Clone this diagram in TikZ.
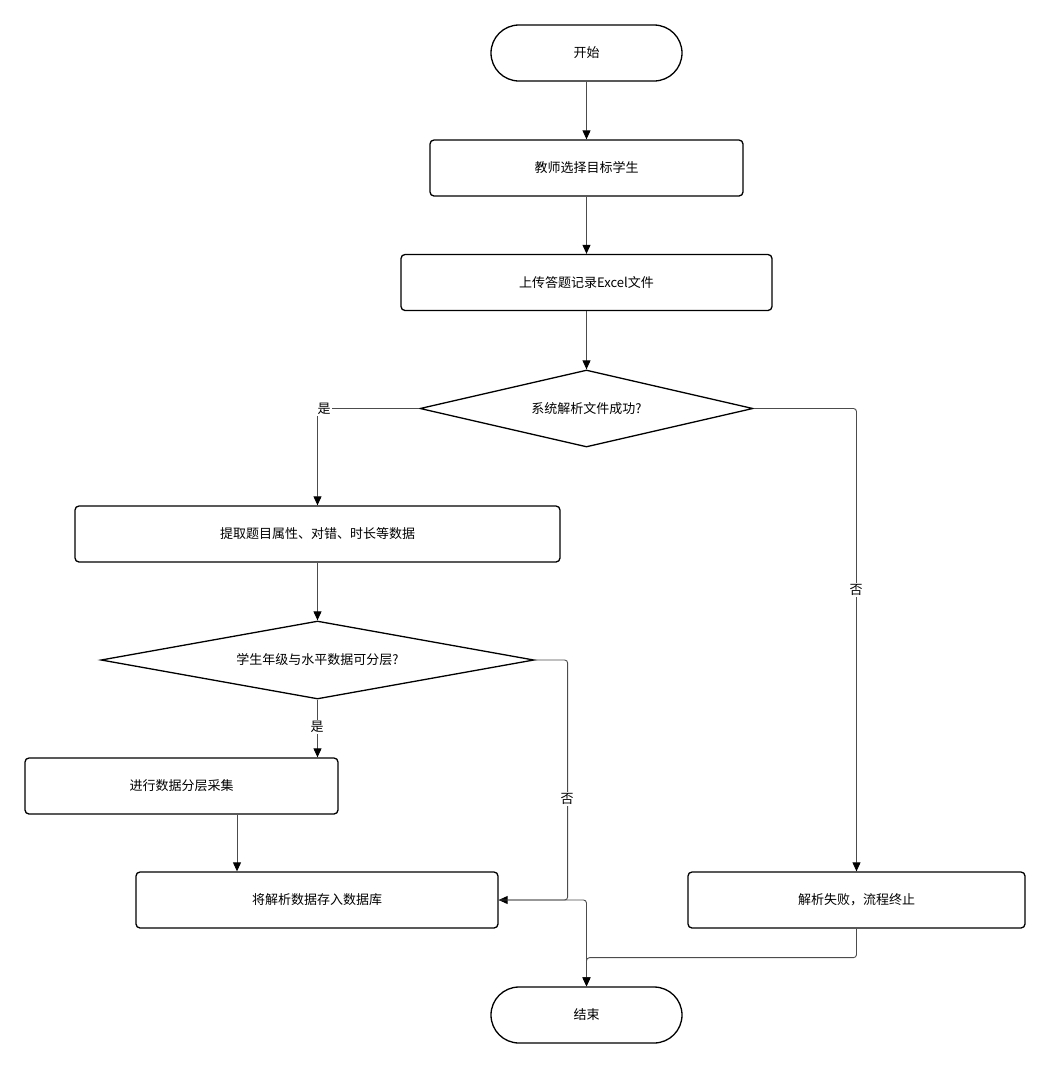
\documentclass[tikz,border=0pt]{standalone}
\usepackage{fontspec}
\setmainfont{Noto Sans CJK SC}
\usetikzlibrary{shapes.geometric,shapes.misc,arrows.meta}
\begin{document}
\begin{tikzpicture}[x=1pt,y=-1pt,
  every node/.style={font=\fontsize{13}{15}\selectfont},
  box/.style={draw=black,line width=1.3pt,rounded corners=4pt,minimum height=56,inner sep=0pt},
  term/.style={draw=black,line width=1.3pt,rounded rectangle,minimum width=191,minimum height=56,inner sep=0pt},
  decision/.style={draw=black,line width=1.3pt,diamond,inner sep=0pt},
  conn/.style={draw=black!70,line width=0.9pt,rounded corners=3pt,-{Triangle[length=9pt,width=8pt,fill=black,color=black]}},
  lbl/.style={fill=white,inner sep=1pt}]
\useasboundingbox (0,0) rectangle (1051,1069);
\node[term] (start) at (586.5,53) {开始};
\node[box,minimum width=313] (b1) at (586.5,168) {教师选择目标学生};
\node[box,minimum width=371] (b2) at (586.5,282.5) {上传答题记录Excel文件};
\node[decision,aspect=4.32,minimum width=333,minimum height=77] (d1) at (586.5,408.5) {系统解析文件成功?};
\node[box,minimum width=485] (b3) at (317.5,534) {提取题目属性、对错、时长等数据};
\node[decision,aspect=5.55,minimum width=433,minimum height=78] (d2) at (317.5,660) {学生年级与水平数据可分层?};
\node[box,minimum width=313] (b4) at (181.5,786) {进行数据分层采集};
\node[box,minimum width=362] (b5) at (317,900) {将解析数据存入数据库};
\node[box,minimum width=337] (b6) at (856.5,900) {解析失败，流程终止};
\node[term] (end) at (586.5,1015) {结束};

\draw[conn] (start) -- (b1);
\draw[conn] (b1) -- (b2);
\draw[conn] (b2) -- (d1);
\draw[conn] (d1.west) -| (b3.north);
\node[lbl] (yes1) at (324,409) {是};
\draw[conn] (b3) -- (d2);
\draw[conn] (d2.south) -- (d2.south |- b4.north);
\node[lbl] (yes2) at (317,727) {是};
\draw[conn] ([xshift=55.5pt]b4.south) -- ([xshift=55.5pt]b4.south |- b5.north);
\draw[conn] (d2.east) -| ([xshift=69pt]b5.east) -- (b5.east);
\node[lbl] (no2) at (567,799) {否};
\draw[conn] (d1.east) -| (b6.north);
\node[lbl] (no1) at (856,590) {否};
\draw[conn] (b5.east) -| (end.north);
\draw[conn] (b6.south) -- ([yshift=-29pt]b6.south) -| (end.north);
\end{tikzpicture}
\end{document}
